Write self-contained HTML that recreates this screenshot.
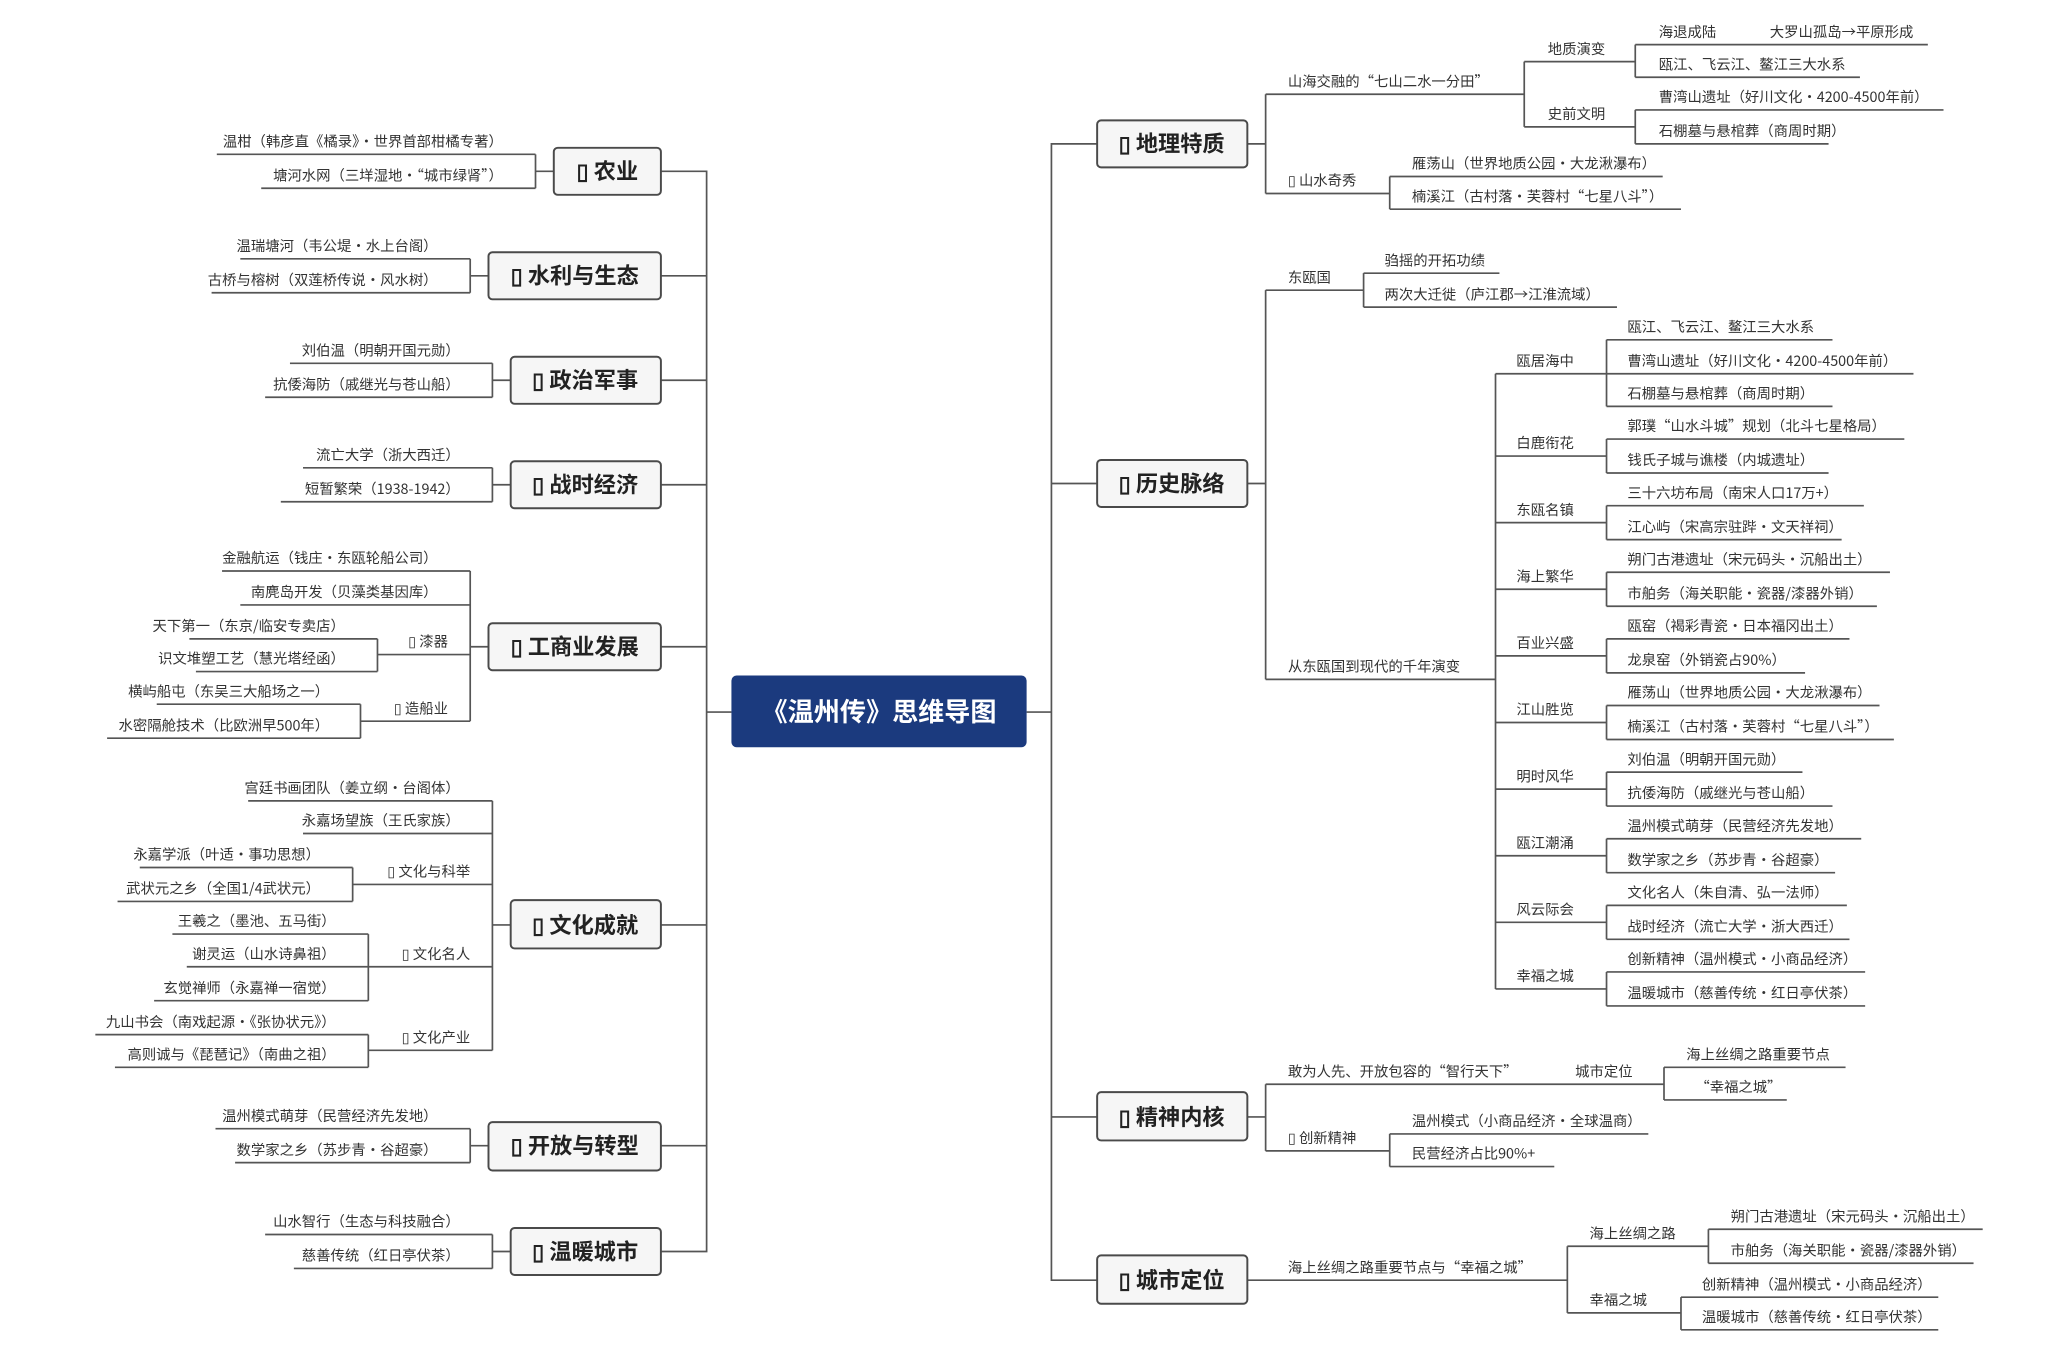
<!DOCTYPE html>
<html><head><meta charset="utf-8"><style>
html,body{margin:0;padding:0;background:#fff;}
svg{display:block;}
text{font-family:"Noto Sans CJK SC","Liberation Sans",sans-serif;fill:#333;font-size:11px;}
.l text{text-anchor:end;}
.b{fill:#f6f6f6;stroke:#4a4a4a;stroke-width:1.5;}
.bt{font-size:17px;font-weight:bold;fill:#222;text-anchor:middle;}
.ln{fill:none;stroke:#555;stroke-width:1.3;}
</style></head><body>
<svg width="2048" height="1364" viewBox="0 0 1568 1044" xmlns="http://www.w3.org/2000/svg">
<g class="ln">
<path d="M506,131H541V958H506M506,211H541M506,291H541M506,371H541M506,495H541M506,708H541M506,877H541M560,545H541"/>
<path d="M840,110H805V980H840M840,370H805M840,855H805M786,545H805"/>
<path d="M424,131H410M410,118V144M166,118H410M200,144H410"/>
<path d="M374,211H360M360,198V224M184,198H360M162,224H360"/>
<path d="M391,291H377M377,278V304M222,278H377M203,304H377"/>
<path d="M391,371H377M377,358V384M232,358H377M215,384H377"/>
<path d="M374,495H360M360,437V552M170,437H360M184,463H360M289,501H360M276,552H360M289,489V514M145,489H289M150,514H289M276,539V565M120,539H276M82,565H276"/>
<path d="M391,708H377M377,613V804M190,613H377M232,638H377M270,677H377M282,740H377M282,804H377M270,664V690M107,664H270M90,690H270M282,715V766M132,715H282M143,740H282M118,766H282M282,792V817M73,792H282M88,817H282"/>
<path d="M374,877H360M360,864V890M165,864H360M180,890H360"/>
<path d="M391,958H377M377,945V971M203,945H377M225,971H377"/>
<path d="M955,110H969M969,72V148M969,72H1167M1167,47V97M1167,47H1252M1167,97H1252M1252,34V59M1252,34H1476M1252,59H1424M1252,84V110M1252,84H1488M1252,110H1400M969,148H1064M1064,135V160M1064,135H1273M1064,160H1287"/>
<path d="M955,370H969M969,222V520M969,222H1044M1044,209V235M1044,209H1148M1044,235H1238M969,520H1145M1145,286V757"/>
<path d="M1145,286H1230M1230,260V311M1230,260H1403M1230,286H1465M1230,311H1403
M1145,349H1230M1230,336V362M1230,336H1458M1230,362H1400
M1145,400H1230M1230,387V413M1230,387H1427M1230,413H1410
M1145,451H1230M1230,438V464M1230,438H1447M1230,464H1437
M1145,502H1230M1230,489V515M1230,489H1416M1230,515H1382
M1145,553H1230M1230,540V566M1230,540H1439M1230,566H1450
M1145,604H1230M1230,591V617M1230,591H1380M1230,617H1403
M1145,655H1230M1230,642V668M1230,642H1425M1230,668H1405
M1145,706H1230M1230,693V719M1230,693H1414M1230,719H1416
M1145,757H1230M1230,744V770M1230,744H1428M1230,770H1428"/>
<path d="M955,855H969M969,830V881M969,830H1274M1274,817V842M1274,817H1413M1274,842H1368M969,881H1064M1064,868V893M1064,868H1262M1064,893H1190"/>
<path d="M955,980H1200M1200,954V1005M1200,954H1308M1308,941V967M1308,941H1518M1308,967H1511M1200,1005H1287M1287,993V1018M1287,993H1484M1287,1018H1484"/>
</g>

<rect x="560" y="517" width="226" height="55" rx="4" fill="#1b3a7e"/>
<text x="673" y="552" style="font-size:20px;font-weight:bold;fill:#fff;text-anchor:middle">《温州传》思维导图</text>

<rect class="b" x="424" y="113" width="82" height="36" rx="3"/><text class="bt" x="465" y="137">▯ 农业</text>
<rect class="b" x="374" y="193" width="132" height="36" rx="3"/><text class="bt" x="440" y="217">▯ 水利与生态</text>
<rect class="b" x="391" y="273" width="115" height="36" rx="3"/><text class="bt" x="448" y="297">▯ 政治军事</text>
<rect class="b" x="391" y="353" width="115" height="36" rx="3"/><text class="bt" x="448" y="377">▯ 战时经济</text>
<rect class="b" x="374" y="477" width="132" height="36" rx="3"/><text class="bt" x="440" y="501">▯ 工商业发展</text>
<rect class="b" x="391" y="689" width="115" height="37" rx="3"/><text class="bt" x="448" y="714">▯ 文化成就</text>
<rect class="b" x="374" y="859" width="132" height="37" rx="3"/><text class="bt" x="440" y="883">▯ 开放与转型</text>
<rect class="b" x="391" y="940" width="115" height="36" rx="3"/><text class="bt" x="448" y="964">▯ 温暖城市</text>
<rect class="b" x="840" y="92" width="115" height="36" rx="3"/><text class="bt" x="897" y="116">▯ 地理特质</text>
<rect class="b" x="840" y="352" width="115" height="36" rx="3"/><text class="bt" x="897" y="376">▯ 历史脉络</text>
<rect class="b" x="840" y="836" width="115" height="37" rx="3"/><text class="bt" x="897" y="861">▯ 精神内核</text>
<rect class="b" x="840" y="961" width="115" height="37" rx="3"/><text class="bt" x="897" y="986">▯ 城市定位</text>

<g class="l">
<text x="385" y="112">温柑（韩彦直《橘录》·世界首部柑橘专著）</text>
<text x="385" y="138">塘河水网（三垟湿地·“城市绿肾”）</text>
<text x="335" y="192">温瑞塘河（韦公堤·水上台阁）</text>
<text x="335" y="218">古桥与榕树（双莲桥传说·风水树）</text>
<text x="352" y="272">刘伯温（明朝开国元勋）</text>
<text x="352" y="298">抗倭海防（戚继光与苍山船）</text>
<text x="352" y="352">流亡大学（浙大西迁）</text>
<text x="352" y="378">短暂繁荣（1938-1942）</text>
<text x="335" y="431">金融航运（钱庄·东瓯轮船公司）</text>
<text x="335" y="457">南麂岛开发（贝藻类基因库）</text>
<text x="343" y="495">▯ 漆器</text>
<text x="264" y="483">天下第一（东京/临安专卖店）</text>
<text x="264" y="508">识文堆塑工艺（慧光塔经函）</text>
<text x="343" y="546">▯ 造船业</text>
<text x="252" y="533">横屿船屯（东吴三大船场之一）</text>
<text x="252" y="559">水密隔舱技术（比欧洲早500年）</text>
<text x="352" y="607">宫廷书画团队（姜立纲·台阁体）</text>
<text x="352" y="632">永嘉场望族（王氏家族）</text>
<text x="360" y="671">▯ 文化与科举</text>
<text x="245" y="658">永嘉学派（叶适·事功思想）</text>
<text x="245" y="684">武状元之乡（全国1/4武状元）</text>
<text x="360" y="734">▯ 文化名人</text>
<text x="257" y="709">王羲之（墨池、五马街）</text>
<text x="257" y="734">谢灵运（山水诗鼻祖）</text>
<text x="257" y="760">玄觉禅师（永嘉禅一宿觉）</text>
<text x="360" y="798">▯ 文化产业</text>
<text x="257" y="786">九山书会（南戏起源·《张协状元》）</text>
<text x="257" y="811">高则诚与《琵琶记》（南曲之祖）</text>
<text x="335" y="858">温州模式萌芽（民营经济先发地）</text>
<text x="335" y="884">数学家之乡（苏步青·谷超豪）</text>
<text x="352" y="939">山水智行（生态与科技融合）</text>
<text x="352" y="965">慈善传统（红日亭伏茶）</text>
</g>

<g>
<text x="986" y="66">山海交融的“七山二水一分田”</text>
<text x="1185" y="41">地质演变</text>
<text x="1185" y="91">史前文明</text>
<text x="1270" y="28">海退成陆</text>
<text x="1355" y="28">大罗山孤岛→平原形成</text>
<text x="1270" y="53">瓯江、飞云江、鳌江三大水系</text>
<text x="1270" y="78">曹湾山遗址（好川文化·4200-4500年前）</text>
<text x="1270" y="104">石棚墓与悬棺葬（商周时期）</text>
<text x="986" y="142">▯ 山水奇秀</text>
<text x="1081" y="129">雁荡山（世界地质公园·大龙湫瀑布）</text>
<text x="1081" y="154">楠溪江（古村落·芙蓉村“七星八斗”）</text>

<text x="986" y="216">东瓯国</text>
<text x="1060" y="203">驺摇的开拓功绩</text>
<text x="1060" y="229">两次大迁徙（庐江郡→江淮流域）</text>
<text x="986" y="514">从东瓯国到现代的千年演变</text>

<text x="1161" y="280">瓯居海中</text>
<text x="1246" y="254">瓯江、飞云江、鳌江三大水系</text>
<text x="1246" y="280">曹湾山遗址（好川文化·4200-4500年前）</text>
<text x="1246" y="305">石棚墓与悬棺葬（商周时期）</text>
<text x="1161" y="343">白鹿衔花</text>
<text x="1246" y="330">郭璞“山水斗城”规划（北斗七星格局）</text>
<text x="1246" y="356">钱氏子城与谯楼（内城遗址）</text>
<text x="1161" y="394">东瓯名镇</text>
<text x="1246" y="381">三十六坊布局（南宋人口17万+）</text>
<text x="1246" y="407">江心屿（宋高宗驻跸·文天祥祠）</text>
<text x="1161" y="445">海上繁华</text>
<text x="1246" y="432">朔门古港遗址（宋元码头·沉船出土）</text>
<text x="1246" y="458">市舶务（海关职能·瓷器/漆器外销）</text>
<text x="1161" y="496">百业兴盛</text>
<text x="1246" y="483">瓯窑（褐彩青瓷·日本福冈出土）</text>
<text x="1246" y="509">龙泉窑（外销瓷占90%）</text>
<text x="1161" y="547">江山胜览</text>
<text x="1246" y="534">雁荡山（世界地质公园·大龙湫瀑布）</text>
<text x="1246" y="560">楠溪江（古村落·芙蓉村“七星八斗”）</text>
<text x="1161" y="598">明时风华</text>
<text x="1246" y="585">刘伯温（明朝开国元勋）</text>
<text x="1246" y="611">抗倭海防（戚继光与苍山船）</text>
<text x="1161" y="649">瓯江潮涌</text>
<text x="1246" y="636">温州模式萌芽（民营经济先发地）</text>
<text x="1246" y="662">数学家之乡（苏步青·谷超豪）</text>
<text x="1161" y="700">风云际会</text>
<text x="1246" y="687">文化名人（朱自清、弘一法师）</text>
<text x="1246" y="713">战时经济（流亡大学·浙大西迁）</text>
<text x="1161" y="751">幸福之城</text>
<text x="1246" y="738">创新精神（温州模式·小商品经济）</text>
<text x="1246" y="764">温暖城市（慈善传统·红日亭伏茶）</text>

<text x="986" y="824">敢为人先、开放包容的“智行天下”</text>
<text x="1206" y="824">城市定位</text>
<text x="1291" y="811">海上丝绸之路重要节点</text>
<text x="1298" y="836">“幸福之城”</text>
<text x="986" y="875">▯ 创新精神</text>
<text x="1081" y="862">温州模式（小商品经济·全球温商）</text>
<text x="1081" y="887">民营经济占比90%+</text>

<text x="986" y="974">海上丝绸之路重要节点与“幸福之城”</text>
<text x="1217" y="948">海上丝绸之路</text>
<text x="1325" y="935">朔门古港遗址（宋元码头·沉船出土）</text>
<text x="1325" y="961">市舶务（海关职能·瓷器/漆器外销）</text>
<text x="1217" y="999">幸福之城</text>
<text x="1303" y="987">创新精神（温州模式·小商品经济）</text>
<text x="1303" y="1012">温暖城市（慈善传统·红日亭伏茶）</text>
</g>
</svg>
</body></html>
